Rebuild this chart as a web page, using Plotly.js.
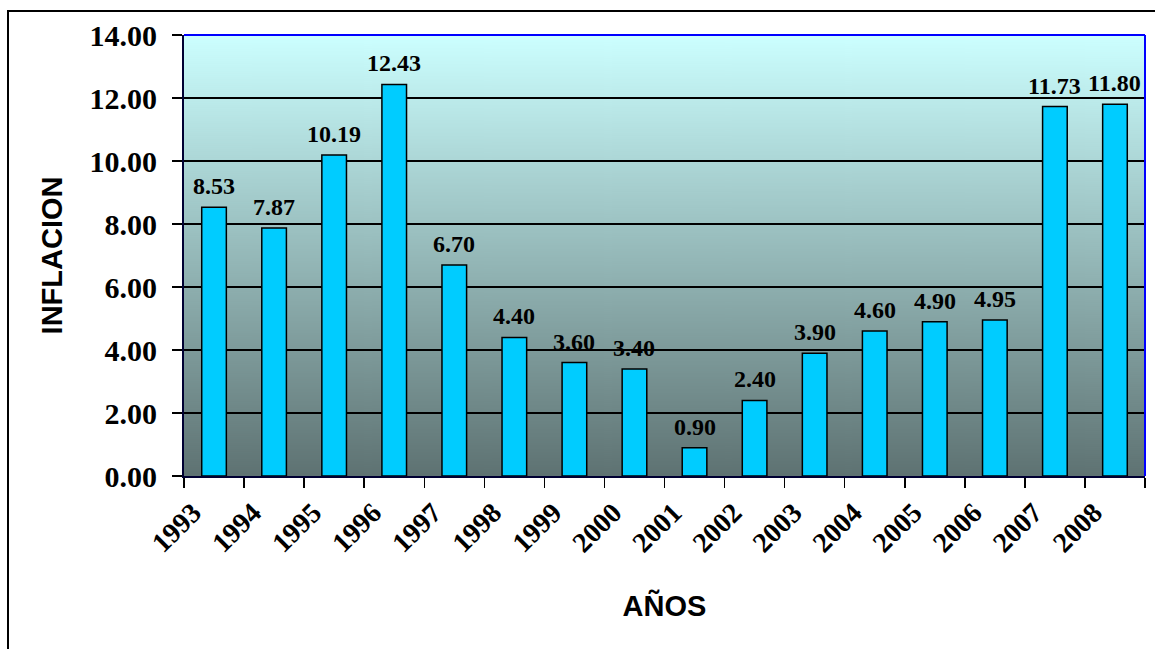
<!DOCTYPE html>
<html>
<head>
<meta charset="utf-8">
<script src="https://cdn.plot.ly/plotly-3.0.1.min.js"></script>
<style>
  html, body { margin: 0; padding: 0; background: #ffffff; }
  #chart { width: 1155px; height: 649px; }
</style>
</head>
<body>
<div id="chart"></div>
<script>
// ---- data ----
const years = ['1993','1994','1995','1996','1997','1998','1999','2000','2001','2002','2003','2004','2005','2006','2007','2008'];
const inflacion = [8.53, 7.87, 10.19, 12.43, 6.70, 4.40, 3.60, 3.40, 0.90, 2.40, 3.90, 4.60, 4.90, 4.95, 11.73, 11.80];
const yTitle = 'INFLACION';
const xTitle = 'AÑOS';

// ---- layout geometry ----
const W = 1155, H = 649;
const mL = 184, mR = 10, mT = 35, mB = 173;
const pw = W - mL - mR, ph = H - mT - mB;
const px = v => (v - mL) / pw;
const py = v => (H - mB - v) / ph;

// gradient background for plot area
const cv = document.createElement('canvas');
cv.width = 8; cv.height = 441;
const ctx = cv.getContext('2d');
const g = ctx.createLinearGradient(0, 0, 0, cv.height);
g.addColorStop(0, '#CCFFFF');
g.addColorStop(1, '#5E7272');
ctx.fillStyle = g;
ctx.fillRect(0, 0, cv.width, cv.height);
const bgURL = cv.toDataURL('image/png');

const serif = 'Liberation Serif, Times New Roman, serif';
const sans = 'Liberation Sans, Arial, sans-serif';

const trace = {
  type: 'bar',
  x: years,
  y: inflacion,
  marker: { color: '#00CCFF', line: { color: '#000000', width: 1.5 } },
  hoverinfo: 'x+y'
};

// value labels above bars (x given as category index)
const labels = inflacion.map((v, i) => ({
  x: i, y: v, xref: 'x', yref: 'y',
  text: v.toFixed(2),
  showarrow: false, yanchor: 'bottom', xanchor: 'center', yshift: 6,
  font: { family: serif, size: 24, color: '#000000', weight: 'bold' }
}));

const layout = {
  width: W, height: H,
  margin: { l: mL, r: mR, t: mT, b: mB, pad: 0 },
  paper_bgcolor: '#ffffff',
  plot_bgcolor: 'rgba(0,0,0,0)',
  showlegend: false,
  bargap: 0.59,
  xaxis: {
    type: 'category',
    range: [-0.5, years.length - 0.5],
    tickson: 'boundaries',
    ticks: 'outside', ticklen: 10, tickwidth: 1.5, tickcolor: '#000000',
    tickangle: -45,
    ticklabelshift: -21,
    ticklabelstandoff: 7,
    tickfont: { family: serif, size: 28, color: '#000000', weight: 'bold' },
    showgrid: false,
    showline: true, linecolor: '#000033', linewidth: 2,
    automargin: true,
    title: { text: xTitle, font: { family: sans, size: 29, color: '#000000', weight: 'bold' }, standoff: 38 }
  },
  yaxis: {
    range: [0, 14], dtick: 2, tick0: 0,
    tickformat: '.2f',
    ticks: 'outside', ticklen: 10, tickwidth: 1.5, tickcolor: '#000000',
    ticklabelstandoff: 9,
    tickfont: { family: serif, size: 30, color: '#000000', weight: 'bold' },
    showgrid: true, gridcolor: '#000000', gridwidth: 1.5,
    zeroline: false,
    showline: true, linecolor: '#000033', linewidth: 2,
    automargin: true,
    title: { text: yTitle, font: { family: sans, size: 29, color: '#000000', weight: 'bold' }, standoff: 18 }
  },
  annotations: labels,
  images: [{
    source: bgURL, xref: 'paper', yref: 'paper',
    x: 0, y: 1, sizex: 1, sizey: 1, xanchor: 'left', yanchor: 'top',
    sizing: 'stretch', layer: 'below'
  }],
  shapes: [
    { type: 'line', xref: 'paper', yref: 'paper', x0: 0, x1: 1, y0: 1, y1: 1, line: { color: '#0000FF', width: 2 }, layer: 'above' },
    { type: 'line', xref: 'paper', yref: 'paper', x0: 1, x1: 1, y0: 0, y1: 1, line: { color: '#0000FF', width: 2 }, layer: 'above' },
    { type: 'rect', xref: 'paper', yref: 'paper', x0: px(8), x1: px(1165), y0: py(11), y1: py(665), line: { color: '#000000', width: 2 }, fillcolor: 'rgba(0,0,0,0)', layer: 'above' }
  ]
};

Plotly.newPlot('chart', [trace], layout, { displayModeBar: false, staticPlot: true });
</script>
</body>
</html>
